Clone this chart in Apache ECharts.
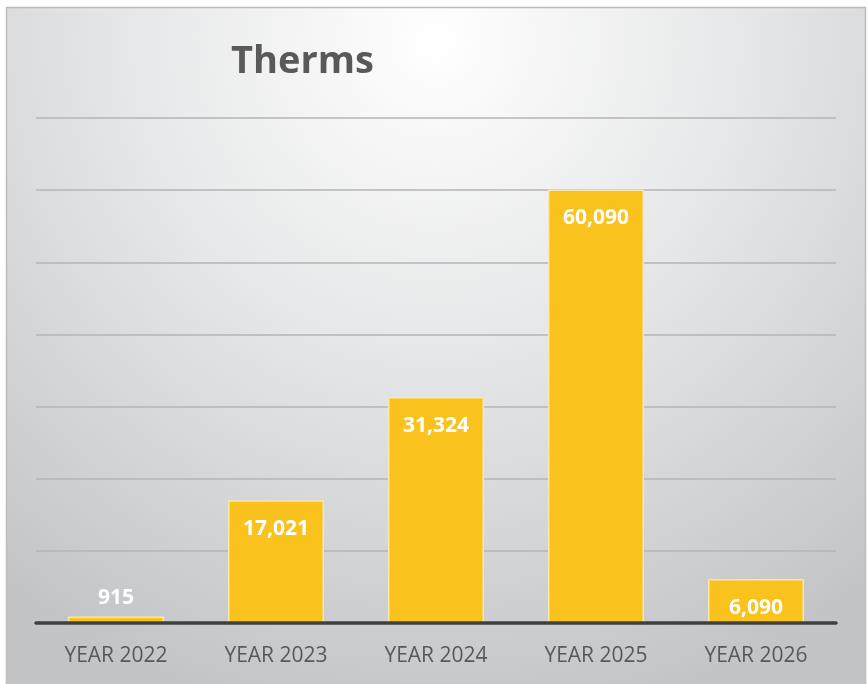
<!DOCTYPE html>
<html>
<head>
<meta charset="utf-8">
<script src="https://cdn.jsdelivr.net/npm/echarts@6/dist/echarts.min.js"></script>
<style>
html,body{margin:0;padding:0;background:#fff;}
#c{width:868px;height:684px;}
</style>
</head>
<body>
<div id="c"></div>
<script>
const categories = ['YEAR 2022','YEAR 2023','YEAR 2024','YEAR 2025','YEAR 2026'];
const therms = [915, 17021, 31324, 60090, 6090];
const yMax = 70000;
const yInterval = 10000;

const chart = echarts.init(document.getElementById('c'), null, {renderer:'canvas'});
const font = '"Open Sans", "Liberation Sans", sans-serif';

const data = therms.map(v => ({
  value: v,
  label: v < 3000 ? {position:'top', distance:8, color:'#ffffff'} : undefined
}));

chart.setOption({
  backgroundColor: '#ffffff',
  animation: false,
  graphic: [{
    type: 'rect',
    z: -10,
    silent: true,
    shape: {x: 6.5, y: 7.5, width: 859, height: 690},
    style: {
      fill: {
        type: 'radial', x: 0.5, y: 0.05, r: 1.0,
        colorStops: [
          {offset: 0, color: '#ffffff'},
          {offset: 0.45, color: '#e6e7e8'},
          {offset: 1, color: '#c3c4c6'}
        ]
      },
      stroke: '#bdbdbd',
      lineWidth: 1.5
    }
  }],
  title: {
    text: 'Therms',
    left: 226,
    top: 38,
    textStyle: {fontFamily: font, fontWeight: 'bold', fontSize: 38, color: '#595959'}
  },
  grid: {left: 36, right: 32, top: 118, bottom: 61, containLabel: false},
  xAxis: {
    type: 'category',
    data: categories,
    axisLine: {show: true, lineStyle: {color: '#404040', width: 3.5}},
    axisTick: {show: false},
    axisLabel: {fontFamily: font, fontSize: 21, color: '#595959', margin: 23},
    z: 5
  },
  yAxis: {
    type: 'value',
    min: 0,
    max: yMax,
    interval: yInterval,
    axisLabel: {show: false},
    axisLine: {show: false},
    axisTick: {show: false},
    splitLine: {show: true, lineStyle: {color: '#b4b4b4', width: 1.5}}
  },
  series: [{
    type: 'bar',
    data: data,
    barWidth: '60%',
    itemStyle: {color: '#f9c21c', borderColor: '#f6e7b0', borderWidth: 1.5},
    label: {
      show: true,
      position: 'insideTop',
      distance: 18,
      fontFamily: font,
      fontWeight: 'bold',
      fontSize: 21,
      color: '#ffffff',
      formatter: p => p.value.toLocaleString('en-US')
    }
  }]
});
</script>
</body>
</html>
